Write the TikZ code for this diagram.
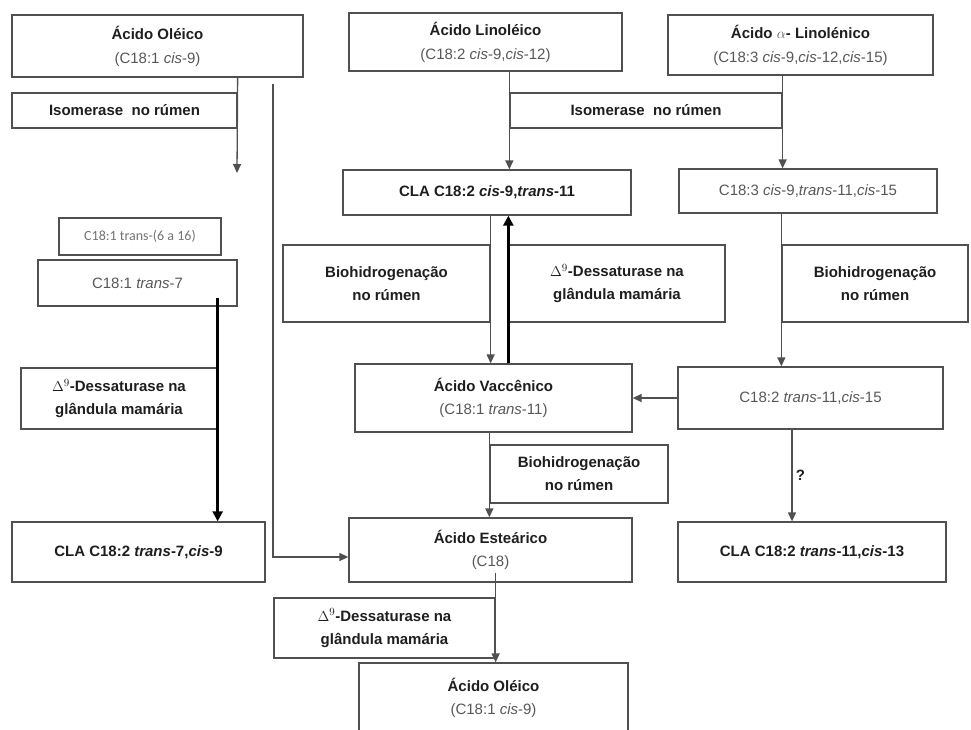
\documentclass[tikz,border=0pt]{standalone}
\usepackage{fontspec}
\setmainfont{Liberation Sans}
\newfontfamily\calibrifont{Carlito}
\usetikzlibrary{arrows.meta}

\definecolor{bordo}{HTML}{505050}
\definecolor{formula}{HTML}{575757}
\definecolor{testo}{HTML}{1E1E1E}
\newcommand{\fml}[1]{{\mdseries\color{formula}#1}}

\begin{document}
\begin{tikzpicture}[x=1pt,y=-1pt,
    box/.style={draw=bordo, line width=1.3pt, inner sep=0pt, align=center, text=testo,
        font=\fontsize{15}{18}\selectfont\bfseries},
    arr/.style={draw=bordo, line width=1.3pt, -{Triangle[width=8pt,length=9pt]}},
    thickarr/.style={draw=black, line width=3pt, -{Triangle[width=10pt,length=10pt]}}]

    \useasboundingbox (0,0) rectangle (971,729);
    \clip (0,0) rectangle (971,729);

    % Acidos de partida
    \node[box, minimum width=291pt, minimum height=62pt] (oleA) at (157.5,46) {Ácido Oléico\\[6pt]\fml{(C18:1 \textit{cis}-9)}};
    \node[box, minimum width=273pt, minimum height=58pt] (lino) at (485.5,42) {Ácido Linoléico\\[6pt]\fml{(C18:2 \textit{cis}-9,\textit{cis}-12)}};
    \node[box, minimum width=265pt, minimum height=60pt] (alin) at (800.5,45) {Ácido {\mdseries\color{formula}\(\alpha\)}- Linolénico\\[6pt]\fml{(C18:3 \textit{cis}-9,\textit{cis}-12,\textit{cis}-15)}};

    % Isomerase
    \node[box, minimum width=225pt, minimum height=35pt] (iso1) at (124.5,110.5) {Isomerase\ \ no rúmen};
    \node[box, minimum width=272pt, minimum height=35pt] (iso2) at (646,110.5) {Isomerase\ \ no rúmen};

    % Intermediarios
    \node[box, minimum width=288pt, minimum height=45pt] (cla911) at (487,192.5) {CLA C18:2 \textit{cis}-9,\textit{trans}-11};
    \node[box, minimum width=258pt, minimum height=44pt] (c183) at (808,191) {\fml{C18:3 \textit{cis}-9,\textit{trans}-11,\textit{cis}-15}};
    \node[box, minimum width=162pt, minimum height=37pt, font=\fontsize{14}{17}\calibrifont, text=black!55] (t616) at (140,236.5) {C18:1 trans-(6 a 16)};
    \node[box, minimum width=199pt, minimum height=46pt] (t7) at (137.5,283) {\fml{C18:1 \textit{trans}-7}};

    % Enzimas
    \node[box, minimum width=207pt, minimum height=77pt] (bio1) at (386.5,283.5) {Biohidrogenação\\[5pt]no rúmen};
    \node[box, minimum width=216pt, minimum height=77pt] (d9b) at (617,283.5) {\(\Delta^{9}\)-Dessaturase na\\[5pt]glândula mamária};
    \node[box, minimum width=186pt, minimum height=77pt] (bio2) at (875,283.5) {Biohidrogenação\\[5pt]no rúmen};
    \node[box, minimum width=196pt, minimum height=61pt] (d9a) at (119,398.5) {\(\Delta^{9}\)-Dessaturase na\\[5pt]glândula mamária};

    \node[box, minimum width=277pt, minimum height=68pt] (vacc) at (493.5,398) {Ácido Vaccênico\\[5pt]\fml{(C18:1 \textit{trans}-11)}};
    \node[box, minimum width=265pt, minimum height=62pt] (c182) at (810.5,398) {\fml{C18:2 \textit{trans}-11,\textit{cis}-15}};

    \node[box, minimum width=178pt, minimum height=58pt] (bio3) at (579,474) {Biohidrogenação\\[5pt]no rúmen};

    % Produtos finais
    \node[box, minimum width=253pt, minimum height=60pt] (cla79) at (138.5,552) {CLA C18:2 \textit{trans}-7,\textit{cis}-9};
    \node[box, minimum width=283pt, minimum height=64pt] (stear) at (490.5,550) {Ácido Esteárico\\[5pt]\fml{(C18)}};
    \node[box, minimum width=268pt, minimum height=60pt] (cla1113) at (812,552) {CLA C18:2 \textit{trans}-11,\textit{cis}-13};
    \node[box, minimum width=221pt, minimum height=60pt] (d9c) at (384.5,628) {\(\Delta^{9}\)-Dessaturase na\\[5pt]glândula mamária};
    \node[box, minimum width=269pt, minimum height=70pt] (oleB) at (493.5,698) {Ácido Oléico\\[5pt]\fml{(C18:1 \textit{cis}-9)}};

    % Setas
    \coordinate (tipA) at (237,173);
    \draw[arr] (oleA.south -| iso1.east) -- (tipA);
    \draw[arr] ([xshift=115.5pt,yshift=-6pt]oleA.south) |- ([yshift=-7pt]stear.west);
    \draw[arr] (lino.south -| iso2.west) -- (cla911.north -| iso2.west);
    \draw[arr] (alin.south -| iso2.east) -- (c183.north -| iso2.east);
    \draw[arr] (c183.south -| bio2.west) -- (c182.north -| bio2.west);
    \draw[arr] (cla911.south -| bio1.east) -- (vacc.north -| bio1.east);
    \draw[thickarr] (vacc.north -| d9b.west) -- (cla911.south -| d9b.west);
    \draw[thickarr] ([yshift=9pt]t7.south -| d9a.east) -- (cla79.north -| d9a.east);
    \draw[arr] (c182.west) -- (vacc.east);
    \draw[arr] ([xshift=-18.5pt]c182.south) -- ([xshift=-20pt]cla1113.north)
        node[midway, right, text=testo, font=\fontsize{15}{18}\selectfont\bfseries] (qm) {?};
    \draw[arr] (vacc.south -| bio3.west) -- (stear.north -| bio3.west);
    \draw[arr] ([yshift=10pt]stear.south -| d9c.east) -- (oleB.north -| d9c.east);
\end{tikzpicture}
\end{document}
